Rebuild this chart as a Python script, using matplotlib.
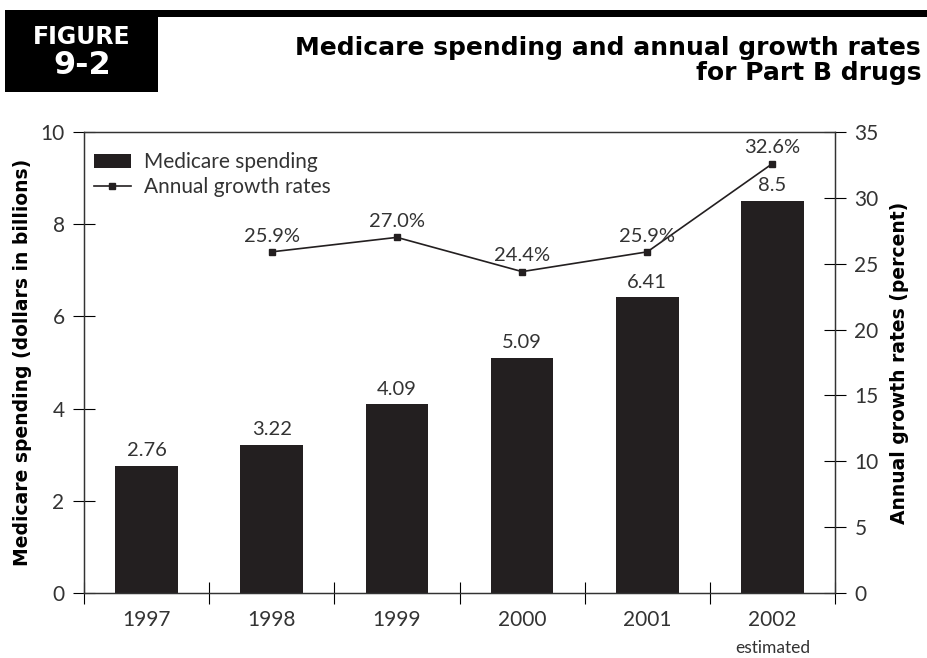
import matplotlib.pyplot as plt
from matplotlib.patches import Rectangle
from matplotlib.transforms import blended_transform_factory
import numpy as np

years = ['1997', '1998', '1999', '2000', '2001', '2002']
spending = [2.76, 3.22, 4.09, 5.09, 6.41, 8.5]
spending_labels = ['2.76', '3.22', '4.09', '5.09', '6.41', '8.5']
growth_years = ['1998', '1999', '2000', '2001', '2002']
growth = [25.9, 27.0, 24.4, 25.9, 32.6]
growth_labels = ['25.9%', '27.0%', '24.4%', '25.9%', '32.6%']

plt.rcParams['font.family'] = ['Lato', 'DejaVu Sans']
txt = '#333333'
bar_col = '#231f20'

fig = plt.figure(figsize=(9.27, 6.58), dpi=100)
ax = fig.add_axes([0.0906, 0.0988, 0.8102, 0.7006])

x = np.arange(len(years))
ax.bar(x, spending, width=0.5, color=bar_col, label='Medicare spending', zorder=2)
for xi, v, lab in zip(x, spending, spending_labels):
    ax.text(xi, v + 0.15, lab, ha='center', va='bottom', fontsize=14.5, color=txt)

ax.set_xlim(-0.5, len(years) - 0.5)
ax.set_ylim(0, 10)
ax.set_yticks(range(0, 11, 2))
ax.set_xticks(x)
ax.set_xticklabels(years)
ax.set_xticks(np.arange(-0.5, len(years), 1), minor=True)
ax.tick_params(axis='x', which='major', length=0, pad=12, labelsize=15, labelcolor=txt)
ax.tick_params(axis='x', which='minor', direction='inout', length=16, width=0.8)
ax.tick_params(axis='y', direction='inout', length=16, width=0.8, labelsize=15, labelcolor=txt, pad=6)
tr = blended_transform_factory(ax.transData, fig.transFigure)
ax.text(5, 1 - 648 / 658, 'estimated', ha='center', va='center', fontsize=12.5, color=txt, transform=tr)
ax.set_ylabel('Medicare spending (dollars in billions)', fontsize=13.5, fontweight='bold', color='black',
              labelpad=6, family=['DejaVu Sans'])

ax2 = ax.twinx()
gx = [years.index(y) for y in growth_years]
ax2.plot(gx, growth, color=bar_col, lw=1.2, marker='s', markersize=5, label='Annual growth rates')
for xi, v, lab in zip(gx, growth, growth_labels):
    ax2.text(xi, v + 0.55, lab, ha='center', va='bottom', fontsize=14.5, color=txt)
ax2.set_ylim(0, 35)
ax2.set_yticks(range(0, 36, 5))
ax2.tick_params(axis='y', direction='inout', length=16, width=0.8, labelsize=15, labelcolor=txt, pad=6)
ax2.set_ylabel('Annual growth rates (percent)', fontsize=13.5, fontweight='bold', color='black',
               labelpad=8, family=['DejaVu Sans'])

for a in (ax, ax2):
    for s in a.spines.values():
        s.set_color('#333333')
        s.set_linewidth(0.9)

h1, l1 = ax.get_legend_handles_labels()
h2, l2 = ax2.get_legend_handles_labels()
leg = ax.legend(h1 + h2, l1 + l2, loc='upper left', bbox_to_anchor=(-0.012, 0.997), frameon=False,
                fontsize=15, handlelength=1.8, handletextpad=0.6, labelspacing=0.25)
for t in leg.get_texts():
    t.set_color(txt)

# header
fig.patches.append(Rectangle((5 / 927, 1 - 92 / 658), 153 / 927, 82 / 658, transform=fig.transFigure,
                             facecolor='black', edgecolor='none'))
fig.patches.append(Rectangle((158 / 927, 1 - 17 / 658), 769 / 927, 7 / 658, transform=fig.transFigure,
                             facecolor='black', edgecolor='none'))
fig.text(82 / 927, 1 - 37 / 658, 'FIGURE', color='white', fontsize=17, fontweight='heavy',
         ha='center', va='center', family=['DejaVu Sans'])
fig.text(82 / 927, 1 - 66 / 658, '9-2', color='white', fontsize=23, fontweight='heavy',
         ha='center', va='center', family=['DejaVu Sans'])
fig.text(921 / 927, 1 - 48 / 658, 'Medicare spending and annual growth rates', color='black',
         fontsize=18, fontweight='bold', ha='right', va='center', family=['DejaVu Sans'])
fig.text(921 / 927, 1 - 73 / 658, 'for Part B drugs', color='black',
         fontsize=18, fontweight='bold', ha='right', va='center', family=['DejaVu Sans'])

fig.savefig('out.png', dpi=100)
